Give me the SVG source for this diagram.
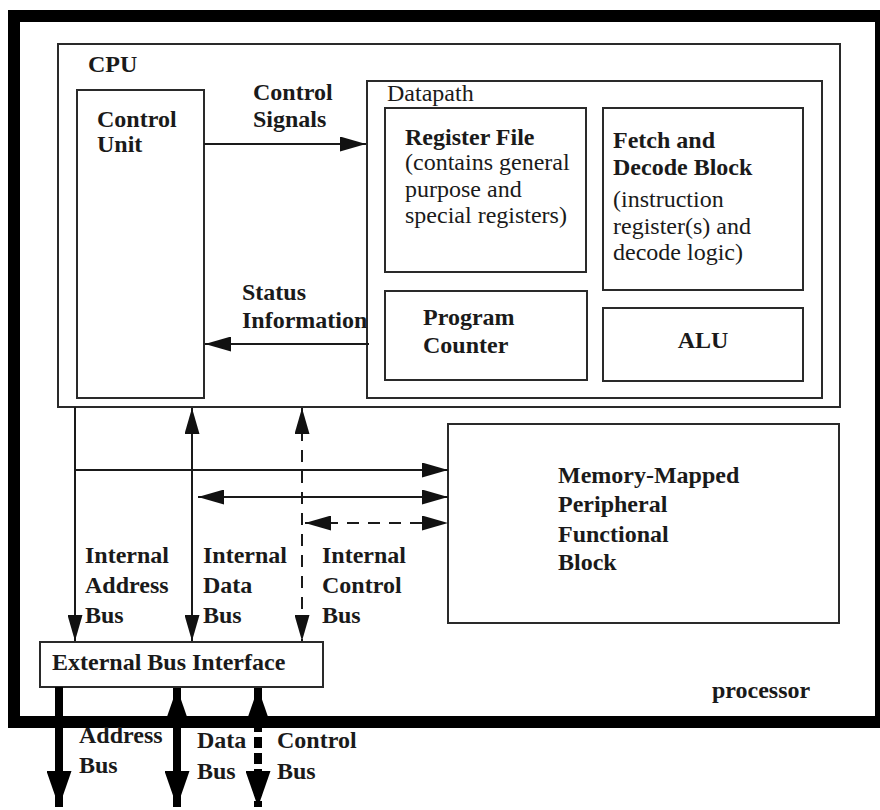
<svg xmlns="http://www.w3.org/2000/svg" width="880" height="810" viewBox="0 0 880 810">
  <style>
    .box { fill: #ffffff; stroke: #2a2a2a; stroke-width: 2; }
    .b { font-family: "Liberation Serif", "Times New Roman", serif; font-weight: bold; font-size: 24px; fill: #1a1a1a; }
    .r { font-family: "Liberation Serif", "Times New Roman", serif; font-weight: normal; font-size: 24px; fill: #1a1a1a; }
    .ln { fill: none; stroke: #1a1a1a; stroke-width: 2; }
    .dash { stroke-dasharray: 12 9; }
    .thick { fill: none; stroke: #000; stroke-width: 8; }
  </style>
  <defs>
    <marker id="ah" viewBox="0 0 26 15" refX="26" refY="7.5" markerWidth="26" markerHeight="15" markerUnits="userSpaceOnUse" orient="auto-start-reverse">
      <path d="M0,0 L26,7.5 L0,15 Z" fill="#111"/>
    </marker>
    <marker id="ahb" viewBox="0 0 36 25" refX="36" refY="12.5" markerWidth="36" markerHeight="25" markerUnits="userSpaceOnUse" orient="auto-start-reverse">
      <path d="M0,0 L36,12.5 L0,25 Z" fill="#000"/>
    </marker>
  </defs>
  <rect width="880" height="810" fill="#ffffff"/>

  <g id="processor">
    <rect x="14" y="16" width="867" height="706" fill="none" stroke="#000" stroke-width="12"/>
    <text class="b" x="712" y="698">processor</text>
  </g>

  <g id="cpu">
    <rect class="box" x="58" y="44" width="782" height="363"/>
    <text class="b" x="88" y="72">CPU</text>
  </g>

  <g id="control-unit">
    <rect class="box" x="77" y="90" width="127" height="308"/>
    <text class="b" x="97" y="127">Control<tspan x="97" dy="25">Unit</tspan></text>
  </g>

  <g id="datapath">
    <rect class="box" x="367" y="81" width="455" height="317"/>
    <text class="r" x="387" y="101">Datapath</text>
  </g>

  <g id="register-file">
    <rect class="box" x="385" y="108" width="201" height="164"/>
    <text class="b" x="405" y="145">Register File</text>
    <text class="r" x="405" y="170">(contains general<tspan x="405" dy="26.5">purpose and</tspan><tspan x="405" dy="26.5">special registers)</tspan></text>
  </g>

  <g id="fetch-decode">
    <rect class="box" x="603" y="108" width="200" height="182"/>
    <text class="b" x="613" y="148">Fetch and<tspan x="613" dy="27">Decode Block</tspan></text>
    <text class="r" x="613" y="207">(instruction<tspan x="613" dy="26.5">register(s) and</tspan><tspan x="613" dy="26.5">decode logic)</tspan></text>
  </g>

  <g id="program-counter">
    <rect class="box" x="385" y="291" width="202" height="89"/>
    <text class="b" x="423" y="325">Program<tspan x="423" dy="28">Counter</tspan></text>
  </g>

  <g id="alu">
    <rect class="box" x="603" y="308" width="200" height="73"/>
    <text class="b" x="703" y="348" text-anchor="middle">ALU</text>
  </g>

  <g id="memory-mapped-peripheral">
    <rect class="box" x="448" y="424" width="391" height="199"/>
    <text class="b" x="558" y="483">Memory-Mapped<tspan x="558" dy="29">Peripheral</tspan><tspan x="558" dy="29.5">Functional</tspan><tspan x="558" dy="28.5">Block</tspan></text>
  </g>

  <g id="external-bus-interface">
    <rect class="box" x="40" y="642" width="283" height="45"/>
    <text class="b" x="52" y="670">External Bus Interface</text>
  </g>

  <g id="connectors">
    <!-- Control signals -->
    <line class="ln" x1="204" y1="144" x2="366" y2="144" marker-end="url(#ah)"/>
    <text class="b" x="253" y="100">Control<tspan x="253" dy="27">Signals</tspan></text>
    <!-- Status information -->
    <line class="ln" x1="369" y1="344" x2="205" y2="344" marker-end="url(#ah)"/>
    <text class="b" x="242" y="300">Status<tspan x="242" dy="28">Information</tspan></text>

    <!-- Internal address bus -->
    <line class="ln" x1="75" y1="407" x2="75" y2="641" marker-end="url(#ah)"/>
    <line class="ln" x1="75" y1="470" x2="448" y2="470" marker-end="url(#ah)"/>
    <text class="b" x="85" y="563">Internal<tspan x="85" dy="30">Address</tspan><tspan x="85" dy="30">Bus</tspan></text>

    <!-- Internal data bus -->
    <line class="ln" x1="192" y1="408" x2="192" y2="641" marker-start="url(#ah)" marker-end="url(#ah)"/>
    <line class="ln" x1="198" y1="497" x2="448" y2="497" marker-start="url(#ah)" marker-end="url(#ah)"/>
    <text class="b" x="203" y="563">Internal<tspan x="203" dy="30">Data</tspan><tspan x="203" dy="30">Bus</tspan></text>

    <!-- Internal control bus -->
    <line class="ln dash" x1="302" y1="408" x2="302" y2="641" marker-start="url(#ah)" marker-end="url(#ah)"/>
    <line class="ln dash" x1="305" y1="523" x2="448" y2="523" marker-start="url(#ah)" marker-end="url(#ah)"/>
    <text class="b" x="322" y="563">Internal<tspan x="322" dy="30">Control</tspan><tspan x="322" dy="30">Bus</tspan></text>

    <!-- External address bus -->
    <line class="thick" x1="59" y1="687" x2="59" y2="807" marker-end="url(#ahb)"/>
    <text class="b" x="79" y="743">Address<tspan x="79" dy="30">Bus</tspan></text>

    <!-- External data bus -->
    <line class="thick" x1="177" y1="688" x2="177" y2="807" marker-start="url(#ahb)" marker-end="url(#ahb)"/>
    <text class="b" x="197" y="748">Data<tspan x="197" dy="31">Bus</tspan></text>

    <!-- External control bus -->
    <line class="thick" x1="258" y1="688" x2="258" y2="732" marker-start="url(#ahb)"/>
    <line class="thick" x1="258" y1="737" x2="258" y2="807" stroke-dasharray="11 5" marker-end="url(#ahb)"/>
    <text class="b" x="277" y="748">Control<tspan x="277" dy="31">Bus</tspan></text>
  </g>
</svg>
